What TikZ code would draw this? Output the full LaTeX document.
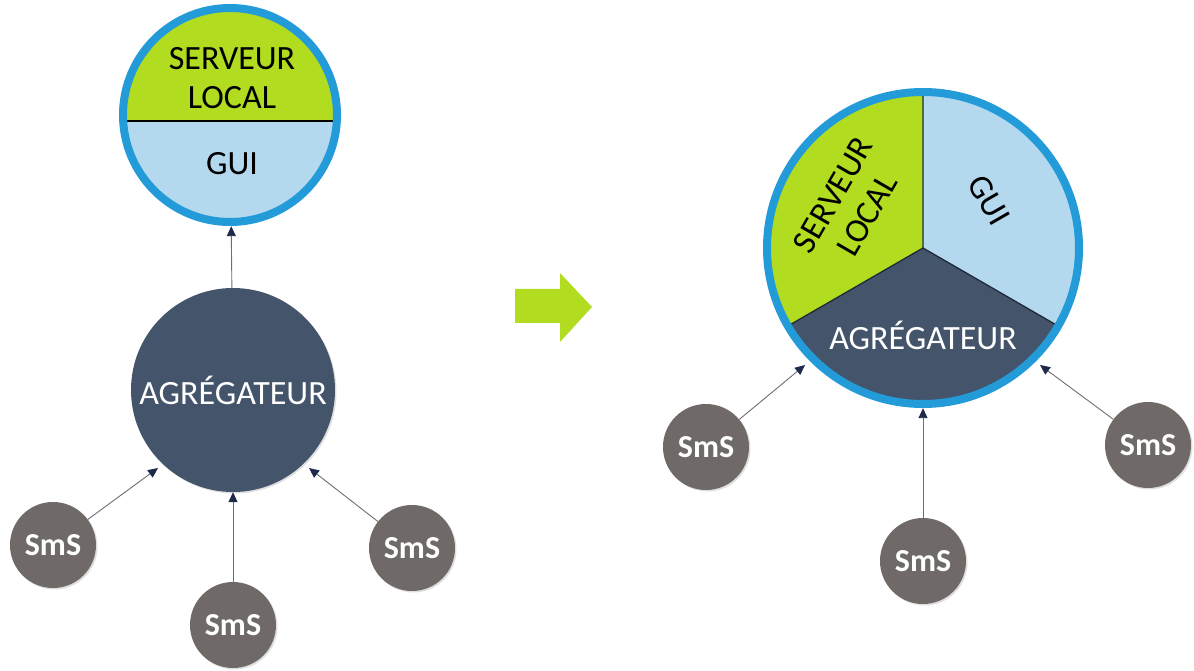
\documentclass[tikz,border=0pt]{standalone}
\usepackage{fontspec}
\setmainfont{Carlito}
\usetikzlibrary{arrows.meta,shadows,calc}
\definecolor{cLime}{HTML}{B1DC1F}
\definecolor{cLightBlue}{HTML}{B4D8EE}
\definecolor{cBlue}{HTML}{229BD8}
\definecolor{cDark}{HTML}{44546A}
\definecolor{cGray}{HTML}{6F6A68}
\definecolor{cLine}{HTML}{6E6E72}
\definecolor{cNavy}{HTML}{1F2A4A}
\definecolor{cDivider}{HTML}{1E2A3C}
\begin{document}
\begin{tikzpicture}[x=1pt,y=1pt,
  txt/.style={font=\fontsize{34}{39}\selectfont, align=center, inner sep=0pt},
  smsnode/.style={circle, fill=cGray, minimum size=86pt, inner sep=0pt, text=white,
    font=\fontsize{32}{38}\selectfont\bfseries,
    drop shadow={opacity=0.25, shadow xshift=1.5pt, shadow yshift=-1.5pt}},
  aggnode/.style={circle, fill=cDark, minimum size=204pt, inner sep=0pt, text=white,
    font=\fontsize{34}{39}\selectfont,
    drop shadow={opacity=0.25, shadow xshift=1.5pt, shadow yshift=-1.5pt}},
  anchorcircle/.style={circle, inner sep=0pt},
  conn/.style={draw=cLine, line width=0.9pt, -{Triangle[length=10pt,width=9pt,fill=cNavy,color=cNavy]}},
]
\useasboundingbox (0,0) rectangle (1194,670);

% ---------- left: server / GUI circle ----------
\begin{scope}
  \clip (230,555) circle (107);
  \fill[cLime] (100,549) rectangle (360,680);
  \fill[cLightBlue] (100,549) rectangle (360,430);
  \draw[black, line width=1.3pt] (100,549) -- (360,549);
\end{scope}
\draw[cBlue, line width=8pt] (230,555) circle (107);
\node[anchorcircle, minimum size=222pt] (srv) at (230,555) {};
\node[txt] (srvtxt) at (232,592) {SERVEUR\\LOCAL};
\node[txt] (guitxt) at (232,506) {GUI};

% ---------- left: aggregator ----------
\node[aggnode] (agg) at (233,280) {AGRÉGATEUR};

% ---------- left: SmS ----------
\node[smsnode] (smsL1) at (53,125) {SmS};
\node[smsnode] (smsB1) at (233,45) {SmS};
\node[smsnode] (smsR1) at (412,122) {SmS};

\coordinate (tL1) at (158,202);
\coordinate (tR1) at (309,202);
\draw[conn] (smsL1) -- (tL1);
\draw[conn] (smsR1) -- (tR1);
\draw[conn] (smsB1) -- (agg);
\draw[conn] (agg) -- (srv);

% ---------- middle arrow ----------
\fill[cLime] (515,347) -- (560,347) -- (560,328) -- (592,363) -- (560,397) -- (560,381) -- (515,381) -- cycle;

% ---------- right: combined circle ----------
\begin{scope}
  \clip (923,422) circle (156);
  \fill[cLime] (923,422) -- ++(90:170) arc[start angle=90, end angle=210, radius=170] -- cycle;
  \fill[cLightBlue] (923,422) -- ++(-30:170) arc[start angle=-30, end angle=90, radius=170] -- cycle;
  \fill[cDark] (923,422) -- ++(210:170) arc[start angle=210, end angle=330, radius=170] -- cycle;
  \draw[cDivider, line width=1.3pt] (923,422) -- ++(90:170) (923,422) -- ++(210:170) (923,422) -- ++(330:170);
\end{scope}
\draw[cBlue, line width=8pt] (923,422) circle (156);
\node[anchorcircle, minimum size=320pt] (big) at (923,422) {};
\node[txt, rotate=60] (srvtxt2) at (850,465) {SERVEUR\\LOCAL};
\node[txt, rotate=-60] (guitxt2) at (989,470) {GUI};
\node[txt, text=white] (aggtxt2) at (923,335) {AGRÉGATEUR};

% ---------- right: SmS ----------
\node[smsnode] (smsL2) at (706,223) {SmS};
\node[smsnode] (smsB2) at (923,109) {SmS};
\node[smsnode] (smsR2) at (1148,225) {SmS};

\coordinate (tL2) at (805,305);
\coordinate (tR2) at (1040,305);
\draw[conn] (smsL2) -- (tL2);
\draw[conn] (smsR2) -- (tR2);
\draw[conn] (smsB2) -- (big);
\end{tikzpicture}
\end{document}
